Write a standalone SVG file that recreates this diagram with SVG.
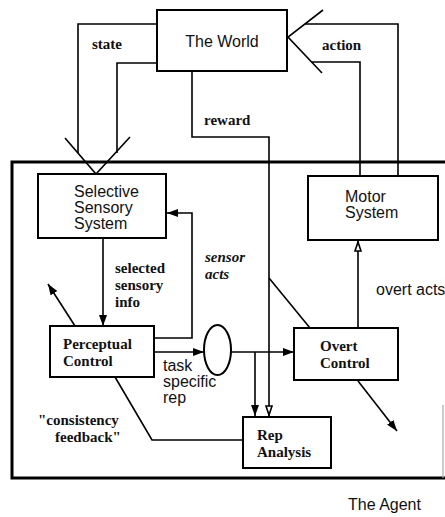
<svg xmlns="http://www.w3.org/2000/svg" width="445" height="517" viewBox="0 0 445 517">
  <style>
    .box { fill: #fff; stroke: #000; stroke-width: 2; }
    .frame { fill: none; stroke: #000; stroke-width: 3; }
    .ln { fill: none; stroke: #000; stroke-width: 1.6; }
    .sans { font-family: "Liberation Sans", Arial, sans-serif; font-size: 16px; fill: #111; }
    .serif { font-family: "Liberation Serif", "Times New Roman", serif; font-size: 15px; font-weight: bold; fill: #111; }
    .ital { font-style: italic; }
  </style>
  <defs>
    <marker id="arr" markerUnits="userSpaceOnUse" markerWidth="12" markerHeight="9" refX="11" refY="4" orient="auto">
      <path d="M0,0 L11,4 L0,8 z" fill="#000"/>
    </marker>
    <marker id="arrOpen" markerUnits="userSpaceOnUse" markerWidth="12" markerHeight="9" refX="11" refY="4" orient="auto">
      <path d="M1,1 L10,4 L1,7 z" fill="#fff" stroke="#000" stroke-width="1.6"/>
    </marker>
  </defs>

  <!-- agent enclosure -->
  <g id="agent-frame">
    <path class="frame" d="M445,162 H12 V478 H445"/>
    <line x1="443" y1="405" x2="443" y2="478" stroke="#aaa" stroke-width="1.2"/>
    <text class="sans" x="348" y="510" font-size="15">The Agent</text>
  </g>

  <!-- connectors -->
  <g id="connectors">
    <!-- state: world to sensory system -->
    <path class="ln" d="M157,24 H78 V153"/>
    <path class="ln" d="M157,63 H117 V153"/>
    <polyline class="ln" points="65,138 96,174 130,137"/>
    <!-- action: motor system to world -->
    <path class="ln" d="M305,24 H398 V176"/>
    <path class="ln" d="M312,62 H360 V176"/>
    <polyline class="ln" points="323,10 288,37 322,73"/>
    <!-- reward -->
    <path class="ln" d="M192,71 V137 H269 V416" marker-end="url(#arrOpen)"/>
    <line class="ln" x1="269" y1="278" x2="310" y2="328"/>
    <!-- selected sensory info -->
    <line class="ln" x1="103" y1="238" x2="103" y2="326" marker-end="url(#arr)"/>
    <!-- attention pointer from perceptual control -->
    <line class="ln" x1="75" y1="326" x2="48" y2="284" marker-end="url(#arr)"/>
    <!-- sensor acts -->
    <path class="ln" d="M154,338 H192 V213 H167" marker-end="url(#arr)"/>
    <!-- task specific rep -->
    <line class="ln" x1="154" y1="352" x2="204" y2="352" marker-end="url(#arr)"/>
    <line class="ln" x1="231" y1="352" x2="294" y2="352" marker-end="url(#arr)"/>
    <line class="ln" x1="255" y1="352" x2="255" y2="416" marker-end="url(#arr)"/>
    <!-- overt acts -->
    <line class="ln" x1="358" y1="328" x2="358" y2="241" marker-end="url(#arrOpen)"/>
    <line class="ln" x1="358" y1="381" x2="397" y2="431" marker-end="url(#arr)"/>
    <!-- consistency feedback -->
    <path class="ln" d="M115,377 L152,440 H243"/>
  </g>

  <!-- nodes -->
  <g id="world">
    <rect class="box" x="157" y="10" width="130" height="61"/>
    <text class="sans" x="222" y="47" text-anchor="middle">The World</text>
  </g>
  <g id="sensory-system">
    <rect class="box" x="38" y="174" width="128" height="64"/>
    <text class="sans" x="74" y="197">Selective</text>
    <text class="sans" x="74" y="213">Sensory</text>
    <text class="sans" x="74" y="229">System</text>
  </g>
  <g id="motor-system">
    <rect class="box" x="308" y="176" width="130" height="64"/>
    <text class="sans" x="345" y="202">Motor</text>
    <text class="sans" x="345" y="218">System</text>
  </g>
  <g id="perceptual-control">
    <rect class="box" x="50" y="326" width="104" height="51"/>
    <text class="serif" x="63" y="349">Perceptual</text>
    <text class="serif" x="63" y="366">Control</text>
  </g>
  <g id="task-rep">
    <ellipse class="box" cx="217.5" cy="350" rx="13.5" ry="25"/>
  </g>
  <g id="overt-control">
    <rect class="box" x="294" y="328" width="104" height="52"/>
    <text class="serif" x="320" y="351">Overt</text>
    <text class="serif" x="320" y="368">Control</text>
  </g>
  <g id="rep-analysis">
    <rect class="box" x="243" y="417" width="88" height="51"/>
    <text class="serif" x="257" y="440">Rep</text>
    <text class="serif" x="257" y="457">Analysis</text>
  </g>

  <!-- connector labels -->
  <g id="labels">
    <text class="serif" x="92" y="49">state</text>
    <text class="serif" x="322" y="50">action</text>
    <text class="serif" x="204" y="125">reward</text>
    <text class="serif" x="115" y="273">selected</text>
    <text class="serif" x="115" y="290">sensory</text>
    <text class="serif" x="115" y="307">info</text>
    <text class="serif ital" x="205" y="262">sensor</text>
    <text class="serif ital" x="205" y="279">acts</text>
    <text class="sans" x="163" y="371" font-size="15">task</text>
    <text class="sans" x="163" y="387" font-size="15">specific</text>
    <text class="sans" x="163" y="403" font-size="15">rep</text>
    <text class="sans" x="376" y="295">overt acts</text>
    <text class="serif" x="38" y="425">"consistency</text>
    <text class="serif" x="55" y="442">feedback"</text>
  </g>
</svg>
